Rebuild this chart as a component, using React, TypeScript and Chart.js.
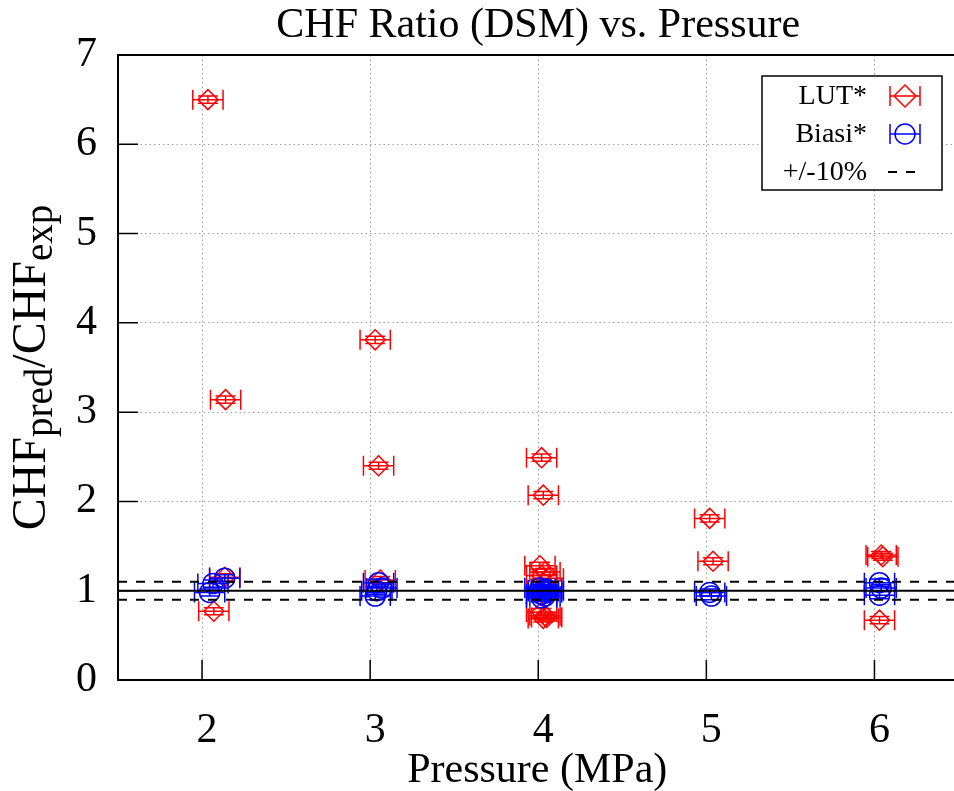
import React, { useEffect, useRef } from "react";
import { Chart, registerables } from "chart.js";

Chart.register(...registerables);

const FONT = '"Liberation Serif", "Times New Roman", serif';

const xTicks = [2, 3, 4, 5, 6];
const yTicks = [0, 1, 2, 3, 4, 5, 6, 7];

const lutX = [2.035, 2.14, 2.07, 2.135, 3.03, 3.05, 3.06, 4.02, 4.03, 4.01, 4.04, 4.02, 4.06, 4.02, 4.04, 4.03, 4.05, 5.02, 5.04, 6.04, 6.05, 6.03];
const lutY = [6.5, 3.14, 0.77, 1.15, 3.81, 2.4, 1.12, 2.49, 2.07, 1.28, 1.21, 1.17, 1.14, 0.76, 0.72, 0.69, 0.7, 1.81, 1.33, 1.4, 1.38, 0.67];

const biasiX = [2.135, 2.065, 2.045, 3.05, 3.07, 3.04, 3.03, 4.01, 4.03, 4.05, 4.02, 4.04, 4.06, 4.02, 4.03, 4.05, 5.02, 5.03, 6.03, 6.04, 6.03];
const biasiY = [1.14, 1.08, 0.98, 1.09, 1.03, 1.0, 0.94, 1.03, 1.01, 0.98, 0.96, 0.94, 1.0, 0.92, 0.99, 1.02, 0.98, 0.94, 1.09, 1.03, 0.95];

const xErr = 0.09;
const yErr = 0.04;
const refLine = 1.0;
const bandLines = [0.9, 1.1];

const legendLabels = ["LUT*", "Biasi*", "+/-10%"];
const titleText = "CHF Ratio (DSM) vs. Pressure";
const xTitle = "Pressure (MPa)";

const RED = "#ff0000";
const BLUE = "#0000ff";

const customPlugin = {
  id: "custom",
  beforeDatasetDraw(chart: any, args: any) {
    const ds = chart.data.datasets[args.index];
    const xs = chart.scales.x;
    const ys = chart.scales.y;
    const ctx = chart.ctx;
    const cap = 10;
    ctx.save();
    ctx.strokeStyle = ds.borderColor;
    ctx.lineWidth = 1.5;
    ctx.setLineDash([]);
    for (const p of ds.data) {
      const xc = xs.getPixelForValue(p.x);
      const yc = ys.getPixelForValue(p.y);
      const x0 = xs.getPixelForValue(p.x - xErr);
      const x1 = xs.getPixelForValue(p.x + xErr);
      const y0 = ys.getPixelForValue(p.y - yErr);
      const y1 = ys.getPixelForValue(p.y + yErr);
      ctx.beginPath();
      ctx.moveTo(x0, yc); ctx.lineTo(x1, yc);
      ctx.moveTo(x0, yc - cap); ctx.lineTo(x0, yc + cap);
      ctx.moveTo(x1, yc - cap); ctx.lineTo(x1, yc + cap);
      ctx.moveTo(xc, y0); ctx.lineTo(xc, y1);
      ctx.moveTo(xc - cap, y0); ctx.lineTo(xc + cap, y0);
      ctx.moveTo(xc - cap, y1); ctx.lineTo(xc + cap, y1);
      ctx.stroke();
    }
    ctx.restore();
  },
  afterDatasetsDraw(chart: any) {
    const ctx = chart.ctx;
    const { left, right, top, bottom } = chart.chartArea;
    const xs = chart.scales.x;
    const ys = chart.scales.y;
    ctx.save();
    ctx.strokeStyle = "#000";
    ctx.lineWidth = 2;
    ctx.setLineDash([]);
    ctx.beginPath();
    const yr = ys.getPixelForValue(refLine);
    ctx.moveTo(left, yr); ctx.lineTo(right, yr);
    ctx.stroke();
    ctx.setLineDash([9, 9]);
    for (const v of bandLines) {
      const yy = ys.getPixelForValue(v);
      ctx.beginPath();
      ctx.moveTo(left, yy); ctx.lineTo(right, yy);
      ctx.stroke();
    }
    ctx.setLineDash([]);
    ctx.lineWidth = 2;
    ctx.beginPath();
    ctx.moveTo(left, top); ctx.lineTo(right, top);
    ctx.lineTo(right, bottom); ctx.lineTo(left, bottom); ctx.closePath();
    ctx.stroke();
    ctx.lineWidth = 1.5;
    ctx.beginPath();
    for (const v of xTicks) {
      const px = xs.getPixelForValue(v);
      ctx.moveTo(px, bottom); ctx.lineTo(px, bottom - 20);
    }
    for (const v of yTicks) {
      const py = ys.getPixelForValue(v);
      ctx.moveTo(left, py); ctx.lineTo(left + 20, py);
    }
    ctx.stroke();

    // legend
    const bx = 762, by = 76, bw = 180, bh = 114;
    ctx.fillStyle = "#fff";
    ctx.fillRect(bx, by, bw, bh);
    ctx.lineWidth = 1.5;
    ctx.strokeStyle = "#000";
    ctx.strokeRect(bx, by, bw, bh);
    ctx.font = `28px ${FONT}`;
    ctx.fillStyle = "#000";
    ctx.textAlign = "right";
    ctx.textBaseline = "middle";
    const rows = [96, 134, 172];
    legendLabels.forEach((t, i) => ctx.fillText(t, 867, rows[i] + 1));
    const sx = 905;
    const drawEB = (color: string, yy: number) => {
      ctx.strokeStyle = color;
      ctx.lineWidth = 1.5;
      ctx.beginPath();
      ctx.moveTo(sx - 15, yy); ctx.lineTo(sx + 15, yy);
      ctx.moveTo(sx - 15, yy - 10); ctx.lineTo(sx - 15, yy + 10);
      ctx.moveTo(sx + 15, yy - 10); ctx.lineTo(sx + 15, yy + 10);
      ctx.stroke();
    };
    drawEB(RED, rows[0]);
    ctx.beginPath();
    ctx.moveTo(sx - 11, rows[0]); ctx.lineTo(sx, rows[0] - 11);
    ctx.lineTo(sx + 11, rows[0]); ctx.lineTo(sx, rows[0] + 11); ctx.closePath();
    ctx.stroke();
    drawEB(BLUE, rows[1]);
    ctx.beginPath();
    ctx.arc(sx, rows[1], 10, 0, Math.PI * 2);
    ctx.stroke();
    ctx.strokeStyle = "#000";
    ctx.lineWidth = 2;
    ctx.setLineDash([9, 9]);
    ctx.beginPath();
    ctx.moveTo(888, rows[2]); ctx.lineTo(924, rows[2]);
    ctx.stroke();
    ctx.restore();
  },
  afterDraw(chart: any) {
    const ctx = chart.ctx;
    const { left, right, top, bottom } = chart.chartArea;
    const cx = (left + right) / 2;
    ctx.save();
    ctx.fillStyle = "#000";
    ctx.textAlign = "center";
    ctx.textBaseline = "alphabetic";
    ctx.font = `42px ${FONT}`;
    ctx.fillText(titleText, cx, 37);
    ctx.fillText(xTitle, cx - 1, 782);
    const segs: [string, boolean][] = [["CHF", false], ["pred", true], ["/CHF", false], ["exp", true]];
    const main = `48px ${FONT}`;
    const sub = `39px ${FONT}`;
    let total = 0;
    const widths = segs.map(([t, s]) => {
      ctx.font = s ? sub : main;
      const w = ctx.measureText(t).width;
      total += w;
      return w;
    });
    const cy = (top + bottom) / 2;
    ctx.translate(45, cy);
    ctx.rotate(-Math.PI / 2);
    ctx.textAlign = "left";
    let pos = -total / 2;
    segs.forEach(([t, s], i) => {
      ctx.font = s ? sub : main;
      ctx.fillText(t, pos, s ? 7 : 0);
      pos += widths[i];
    });
    ctx.restore();
  },
};

export default function App() {
  const ref = useRef<HTMLCanvasElement | null>(null);
  useEffect(() => {
    if (!ref.current) return;
    const chart = new Chart(ref.current, {
      type: "scatter",
      data: {
        datasets: [
          {
            label: "LUT*",
            data: lutX.map((x, i) => ({ x, y: lutY[i] })),
            borderColor: RED,
            backgroundColor: "rgba(0,0,0,0)",
            pointStyle: "rectRot",
            pointRadius: 10,
            pointBorderWidth: 1.5,
            order: 1,
          },
          {
            label: "Biasi*",
            data: biasiX.map((x, i) => ({ x, y: biasiY[i] })),
            borderColor: BLUE,
            backgroundColor: "rgba(0,0,0,0)",
            pointStyle: "circle",
            pointRadius: 10,
            pointBorderWidth: 1.5,
            order: 0,
          },
        ],
      },
      options: {
        responsive: false,
        animation: false,
        devicePixelRatio: 1,
        layout: { padding: { top: 55, right: 7, left: 0, bottom: 0 } },
        plugins: {
          legend: { display: false },
          title: { display: false },
          tooltip: { enabled: false },
        },
        scales: {
          x: {
            type: "linear",
            min: 1.5,
            max: 6.5,
            afterBuildTicks: (s: any) => {
              s.ticks = xTicks.map((v) => ({ value: v }));
            },
            afterFit: (s: any) => {
              s.height = 111;
            },
            grid: { color: "#a0a0a0", lineWidth: 1, drawTicks: false },
            border: { display: false, dash: [1.5, 3] },
            ticks: {
              autoSkip: false,
              maxRotation: 0,
              padding: 26,
              labelOffset: 5,
              color: "#000",
              font: { family: FONT, size: 42 },
            },
          },
          y: {
            type: "linear",
            min: 0,
            max: 7,
            afterBuildTicks: (s: any) => {
              s.ticks = yTicks.map((v) => ({ value: v }));
            },
            afterFit: (s: any) => {
              s.width = 118;
            },
            grid: { color: "#a0a0a0", lineWidth: 1, drawTicks: false },
            border: { display: false, dash: [1.5, 3] },
            ticks: {
              autoSkip: false,
              padding: 21,
              color: "#000",
              font: { family: FONT, size: 42 },
            },
          },
        },
      },
      plugins: [customPlugin],
    } as any);
    return () => chart.destroy();
  }, []);

  return (
    <div style={{ position: "fixed", top: 0, left: 0, width: 954, height: 791, overflow: "hidden", background: "#fff" }}>
      <canvas ref={ref} width={970} height={791} style={{ width: 970, height: 791, display: "block" }} />
    </div>
  );
}
